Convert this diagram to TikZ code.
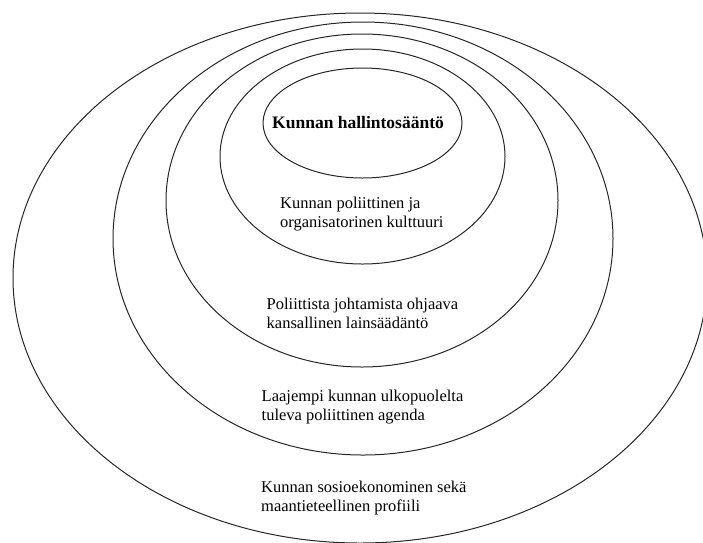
\documentclass[tikz,border=0pt]{standalone}
\usepackage{fontspec}
\setmainfont{Liberation Serif}
\usetikzlibrary{shapes.geometric}
\begin{document}
\begin{tikzpicture}[x=1pt,y=-1pt,
  ring/.style={draw=black!85, line width=1pt, ellipse, inner sep=0pt},
  % two-line captions are placed by the baseline of their last line
  lbl/.style={anchor=base west, align=left, inner sep=0pt,
    font=\fontsize{16.5}{19}\selectfont},
  titlelbl/.style={anchor=base west, inner sep=0pt,
    font=\fontsize{17.5}{20}\selectfont\bfseries}]
  \useasboundingbox (0,0) rectangle (703,542);
  % nested layers, outermost first
  \node[ring, minimum width=694pt, minimum height=530pt] (profile) at (360,278) {};
  \node[ring, minimum width=500pt, minimum height=433pt] (agenda) at (363,238.5) {};
  \node[ring, minimum width=392pt, minimum height=333pt] (law) at (362,200.5) {};
  \node[ring, minimum width=285pt, minimum height=215pt] (culture) at (362.5,156.5) {};
  \node[ring, minimum width=199pt, minimum height=110pt] (rules) at (362.5,123) {};
  % layer captions
  \node[titlelbl] (trules) at (272,128) {Kunnan hallintosääntö};
  \node[lbl] (tculture) at (280,227) {Kunnan poliittinen ja\\organisatorinen kulttuuri};
  \node[lbl] (tlaw) at (266.5,328) {Poliittista johtamista ohjaava\\kansallinen lainsäädäntö};
  \node[lbl] (tagenda) at (261.5,420.5) {Laajempi kunnan ulkopuolelta\\tuleva poliittinen agenda};
  \node[lbl] (tprofile) at (261,511) {Kunnan sosioekonominen sekä\\maantieteellinen profiili};
\end{tikzpicture}
\end{document}
